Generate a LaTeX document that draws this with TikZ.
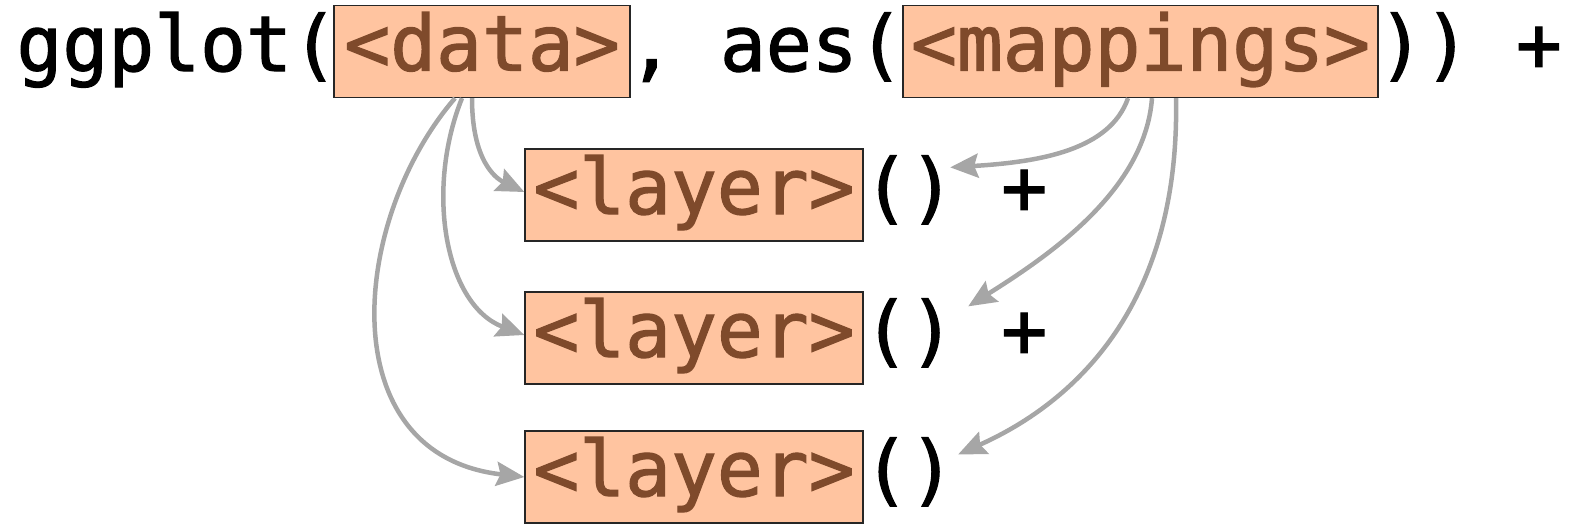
\documentclass[tikz,border=0pt]{standalone}
\usepackage{fontspec}
\usetikzlibrary{arrows.meta}
\newfontfamily\codefont[FakeStretch=0.99,FakeBold=1.6]{DejaVu Sans Mono}
\definecolor{boxfill}{HTML}{FFC4A0}
\definecolor{boxtext}{HTML}{7F4A2B}
\definecolor{arrowgray}{HTML}{A6A6A6}
\tikzset{
  code/.style={font=\codefont\fontsize{77}{84}\selectfont, inner sep=0pt},
  codebox/.style={code, draw=black!85, line width=1.3pt, fill=boxfill, text=boxtext,
    minimum height=92pt, text height=55pt, text depth=17pt},
  link/.style={draw=arrowgray, line width=4.5pt, -{Stealth[length=28pt,width=24pt,inset=4pt]}},
}
\begin{document}
\begin{tikzpicture}[x=1pt,y=-1pt]
\useasboundingbox (0,0) rectangle (1573,525);
% boxes
\node[codebox, minimum width=296pt] (data) at (482,51.5) {<data>};
\node[codebox, minimum width=475pt] (map) at (1140.5,51.5) {<mappings>};
\node[codebox, minimum width=338pt] (layer1) at (694,195) {<layer>};
\node[codebox, minimum width=338pt] (layer2) at (694,338) {<layer>};
\node[codebox, minimum width=338pt] (layer3) at (694,477) {<layer>};
% plain code text
\node[code, anchor=base east] (gg) at (338,71) {ggplot(};
\node[code, anchor=base west] (aes) at (628,71) {, aes(};
\node[code, anchor=base west] (close) at (1378,71) {)) +};
\node[code, anchor=base west] (par1) at (863,214) {()};
\node[code, anchor=base west] (plus1) at (par1.base east) {\ +};
\node[code, anchor=base west] (par2) at (863,357) {()};
\node[code, anchor=base west] (plus2) at (par2.base east) {\ +};
\node[code, anchor=base west] (par3) at (863,496) {()};
% arrows from data
\draw[link] ([xshift=-10pt]data.south) .. controls (472,160) and (495,178) .. ([yshift=3pt]layer1.west);
\draw[link] ([xshift=-20pt]data.south) .. controls (425,190) and (445,305) .. ([yshift=3pt]layer2.west);
\draw[link] ([xshift=-27pt]data.south) .. controls (350,220) and (330,455) .. (layer3.west);
% arrows from mappings
\draw[link] ([xshift=-12.5pt]map.south) .. controls (1110,150) and (1040,162) .. ([xshift=-5pt,yshift=-12pt]par1.north east);
\draw[link] ([xshift=11.5pt]map.south) .. controls (1145,190) and (1050,255) .. ([xshift=13pt,yshift=-8pt]par2.north east);
\draw[link] ([xshift=35.5pt]map.south) .. controls (1180,300) and (1080,400) .. ([xshift=3pt,yshift=-17pt]par3.north east);
\end{tikzpicture}
\end{document}
